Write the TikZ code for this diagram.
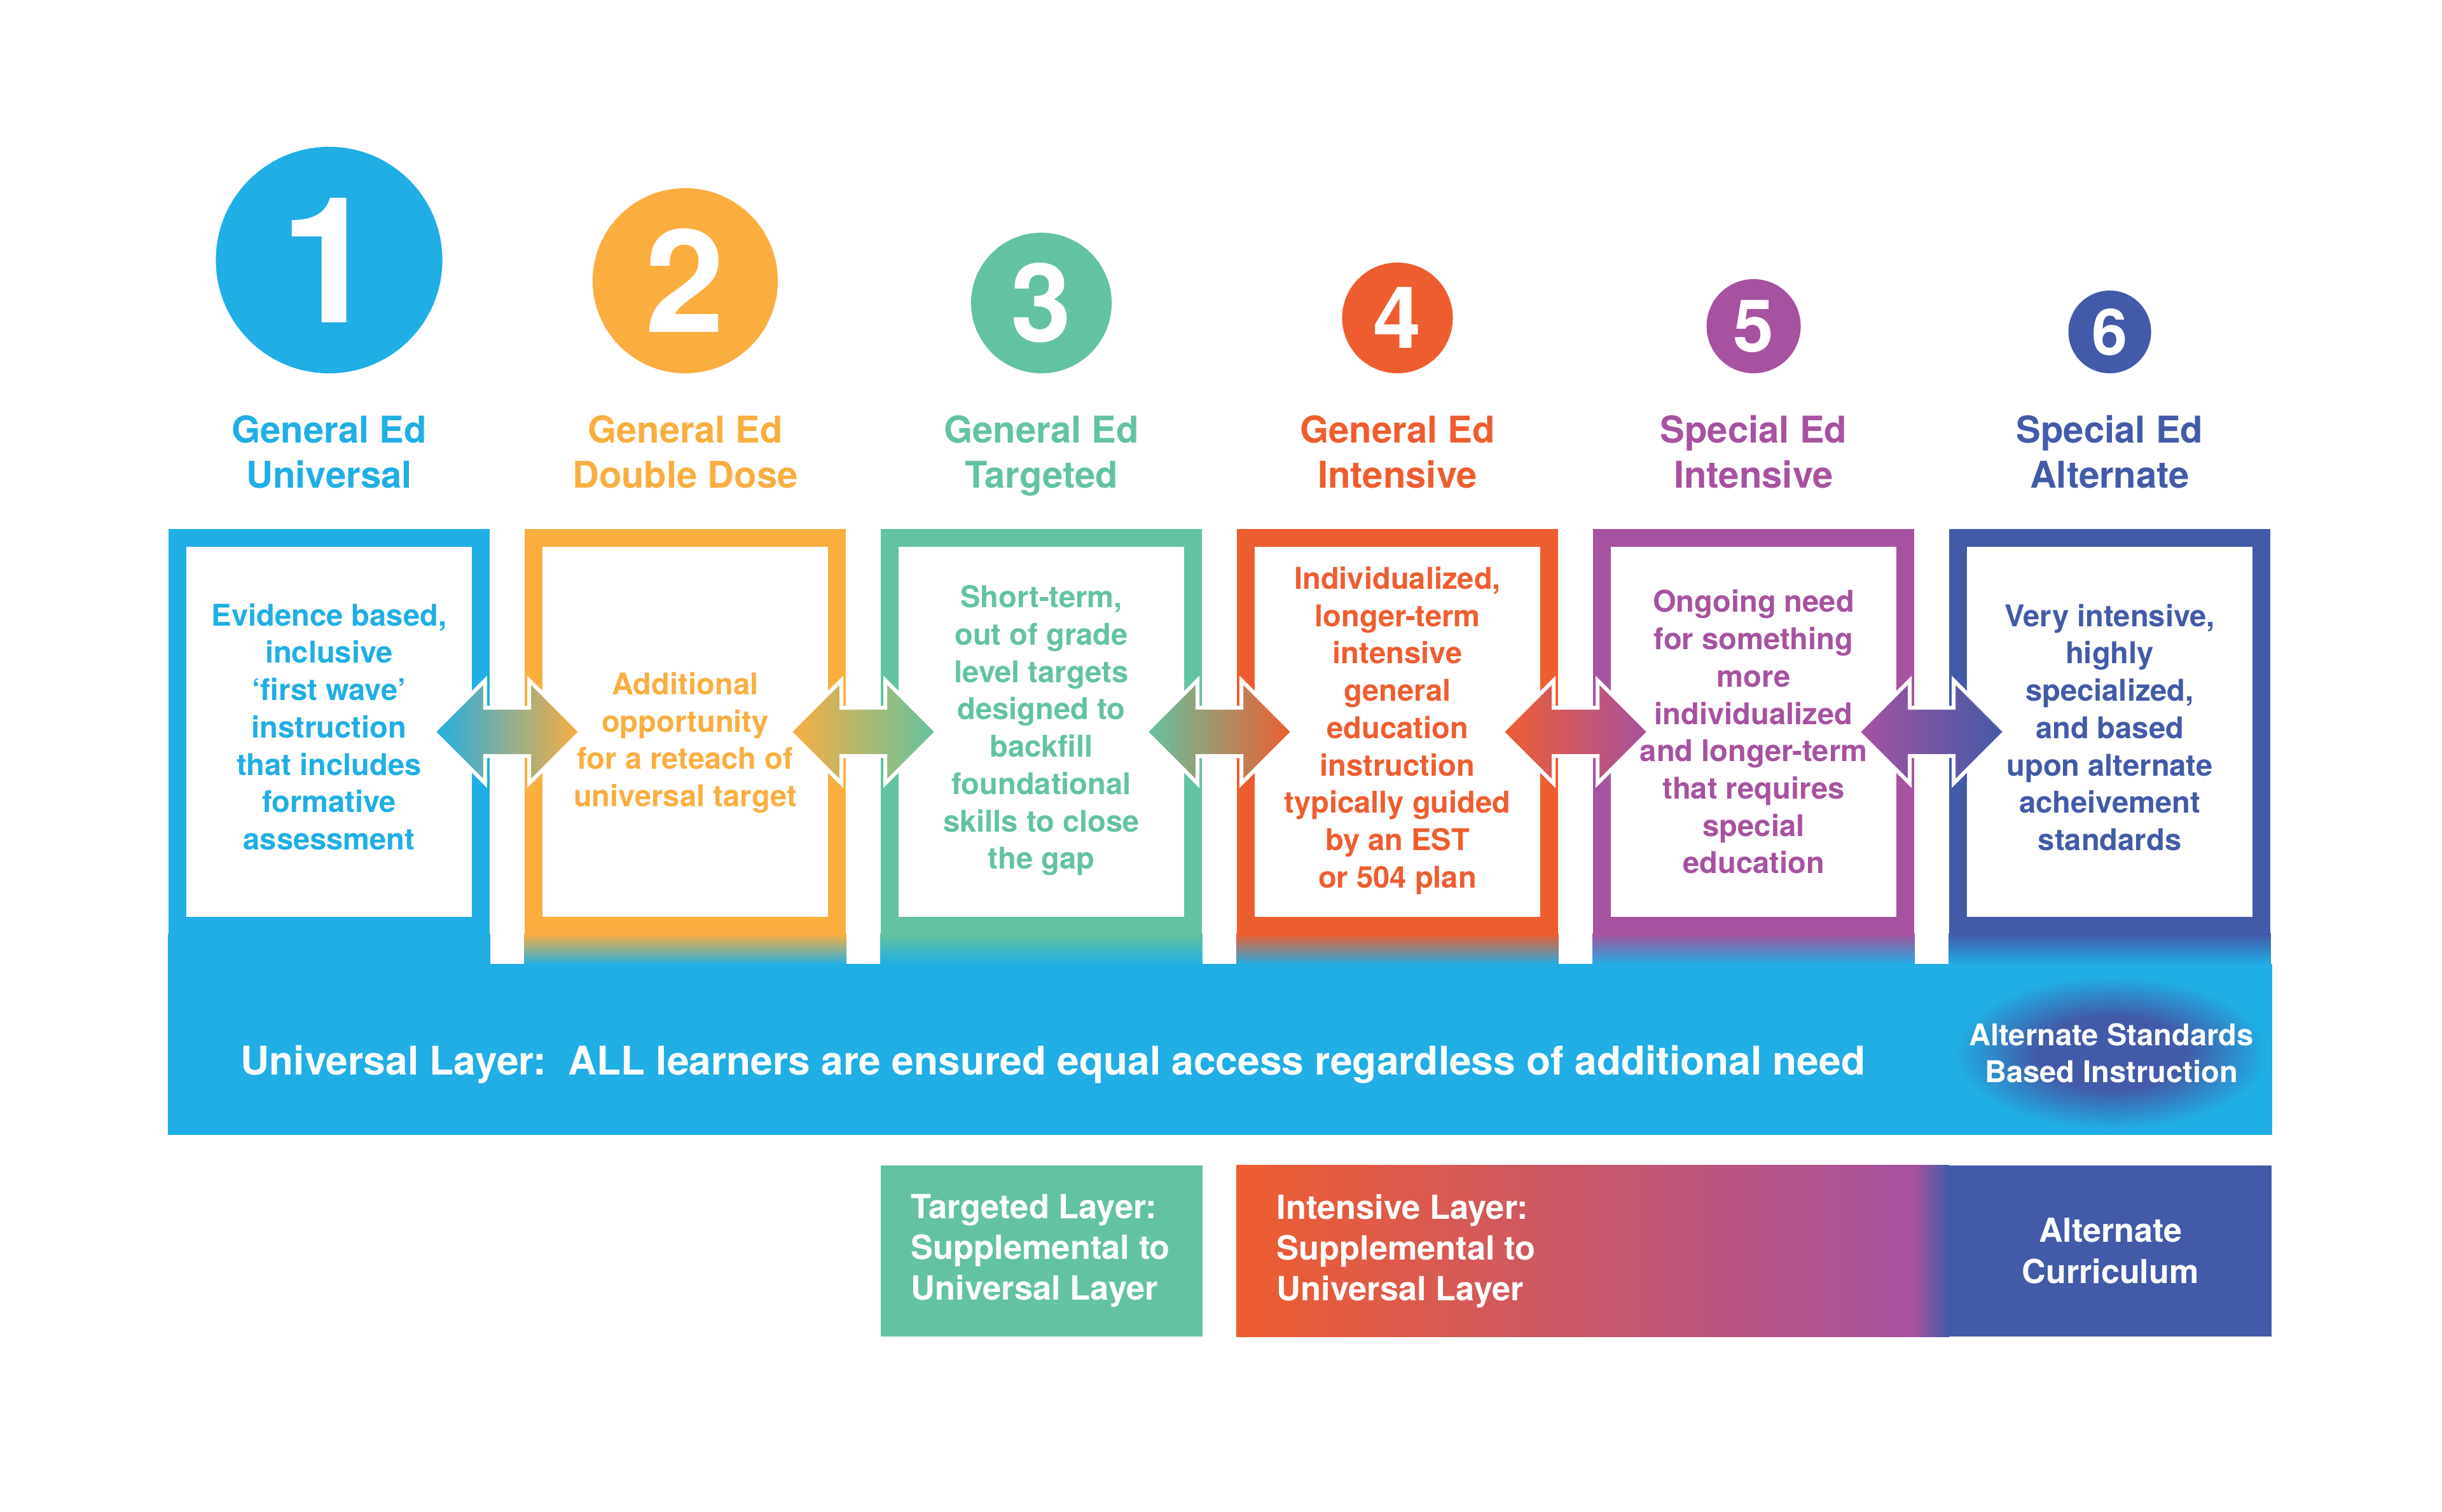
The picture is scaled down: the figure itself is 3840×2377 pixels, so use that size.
\documentclass[tikz,border=0pt]{standalone}
\usepackage{fontspec}
\setmainfont{TeX Gyre Heros}
\usetikzlibrary{arrows.meta,calc,positioning,shapes.arrows,shapes.geometric}
\definecolor{gblue}{RGB}{32,174,228}
\definecolor{gorange}{RGB}{250,174,64}
\definecolor{ggreen}{RGB}{99,195,160}
\definecolor{gred}{RGB}{238,93,48}
\definecolor{gpurple}{RGB}{166,82,160}
\definecolor{gnavy}{RGB}{66,90,168}
\pgfdeclareradialshading{altglow}{\pgfpoint{0bp}{0bp}}{color(0bp)=(gnavy); color(12bp)=(gnavy); color(25bp)=(gblue); color(50bp)=(gblue)}
\tikzset{
  num/.style={circle, inner sep=0pt, text=white},
  title/.style={align=center, font=\fontsize{16.5}{20}\selectfont\bfseries, execute at end node=\strut},
  frame/.style={rectangle, inner sep=0pt, minimum width=5.05cm, minimum height=6.38cm},
  inbox/.style={rectangle, fill=white, inner sep=0pt, minimum width=4.48cm, minimum height=5.81cm},
  note/.style={align=center, font=\fontsize{13.4}{16.7}\selectfont\bfseries},
  flow/.style={double arrow, draw=white, line width=0.06cm, inner xsep=0pt, inner ysep=0.35cm, minimum height=2.31cm, minimum width=1.56cm, double arrow head extend=0.43cm, double arrow tip angle=90},
  layer/.style={rectangle, inner sep=0pt, minimum height=2.69cm},
  laytext/.style={anchor=west, align=left, text=white, font=\fontsize{14.9}{18.2}\selectfont\bfseries}
}

\begin{document}
\begin{tikzpicture}[x=0.01cm, y=-0.01cm]
  \useasboundingbox (0,0) rectangle (3840,2377);

  \node[num, fill=gblue, minimum size=3.56cm, font=\fontsize{78.6}{80}\selectfont\bfseries] (num1) at (517.5,409) {1};
  \node[num, fill=gorange, minimum size=2.91cm, font=\fontsize{64}{66}\selectfont\bfseries] (num2) at (1077.5,441.5) {2};
  \node[num, fill=ggreen, minimum size=2.21cm, font=\fontsize{48.7}{50}\selectfont\bfseries] (num3) at (1637.5,476.5) {3};
  \node[num, fill=gred, minimum size=1.74cm, font=\fontsize{38.4}{40}\selectfont\bfseries] (num4) at (2197.5,500) {4};
  \node[num, fill=gpurple, minimum size=1.48cm, font=\fontsize{32.6}{34}\selectfont\bfseries] (num5) at (2757.5,513) {5};
  \node[num, fill=gnavy, minimum size=1.30cm, font=\fontsize{28.7}{30}\selectfont\bfseries] (num6) at (3317.5,522) {6};

  \node[title, text=gblue] (title1) at (517.5,721) {General Ed\\Universal};
  \node[title, text=gorange] (title2) at (1077.5,721) {General Ed\\Double Dose};
  \node[title, text=ggreen] (title3) at (1637.5,721) {General Ed\\Targeted};
  \node[title, text=gred] (title4) at (2197.5,721) {General Ed\\Intensive};
  \node[title, text=gpurple] (title5) at (2757.5,721) {Special Ed\\Intensive};
  \node[title, text=gnavy] (title6) at (3317.5,721) {Special Ed\\Alternate};

  \node[frame, fill=gblue] (frame1) at (517.5,1151) {};
  \node[frame, fill=gorange] (frame2) at (1077.5,1151) {};
  \node[frame, fill=ggreen] (frame3) at (1637.5,1151) {};
  \node[frame, fill=gred] (frame4) at (2197.5,1151) {};
  \node[frame, fill=gpurple] (frame5) at (2757.5,1151) {};
  \node[frame, fill=gnavy] (frame6) at (3317.5,1151) {};
  \fill[gblue] ($(frame1.south west)+(0,-2)$) rectangle ($(frame1.south east)+(0,47)$);
  \shade[top color=gorange, bottom color=gblue] ($(frame2.south west)+(0,-2)$) rectangle ($(frame2.south east)+(0,47)$);
  \shade[top color=ggreen, bottom color=gblue] ($(frame3.south west)+(0,-2)$) rectangle ($(frame3.south east)+(0,47)$);
  \shade[top color=gred, bottom color=gblue] ($(frame4.south west)+(0,-2)$) rectangle ($(frame4.south east)+(0,47)$);
  \shade[top color=gpurple, bottom color=gblue] ($(frame5.south west)+(0,-2)$) rectangle ($(frame5.south east)+(0,47)$);
  \shade[top color=gnavy, bottom color=gblue] ($(frame6.south west)+(0,-2)$) rectangle ($(frame6.south east)+(0,47)$);

  \node[inbox] (box1) at (frame1) {};
  \node[inbox] (box2) at (frame2) {};
  \node[inbox] (box3) at (frame3) {};
  \node[inbox] (box4) at (frame4) {};
  \node[inbox] (box5) at (frame5) {};
  \node[inbox] (box6) at (frame6) {};
  \node[note, text=gblue] (note1) at ($(box1)+(0,-8)$) {Evidence based,\\inclusive\\‘first wave’\\instruction\\that includes\\formative\\assessment};
  \node[note, text=gorange] (note2) at ($(box2)+(0,17)$) {Additional\\opportunity\\for a reteach of\\universal target};
  \node[note, text=ggreen] (note3) at ($(box3)+(0,-2)$) {Short-term,\\out of grade\\level targets\\designed to\\backfill\\foundational\\skills to close\\the gap};
  \node[note, text=gred] (note4) at ($(box4)+(0,-2)$) {Individualized,\\longer-term\\intensive\\general\\education\\instruction\\typically guided\\by an EST\\or 504 plan};
  \node[note, text=gpurple] (note5) at (box5) {Ongoing need\\for something\\more\\individualized\\and longer-term\\that requires\\special\\education};
  \node[note, text=gnavy] (note6) at ($(box6)+(0,-7)$) {Very intensive,\\highly\\specialized,\\and based\\upon alternate\\acheivement\\standards};

  \node[flow, left color=gblue, right color=gorange] (flow12) at ($(frame1.east)!0.5!(frame2.west)$) {};
  \node[flow, left color=gorange, right color=ggreen] (flow23) at ($(frame2.east)!0.5!(frame3.west)$) {};
  \node[flow, left color=ggreen, right color=gred] (flow34) at ($(frame3.east)!0.5!(frame4.west)$) {};
  \node[flow, left color=gred, right color=gpurple] (flow45) at ($(frame4.east)!0.5!(frame5.west)$) {};
  \node[flow, left color=gpurple, right color=gnavy] (flow56) at ($(frame5.east)!0.5!(frame6.west)$) {};

  \node[layer, fill=gblue, minimum width=33.07cm] (ulayer) at (1918.5,1650.5) {};
  \node[anchor=base west, text=white, font=\fontsize{17.7}{20}\selectfont\bfseries] (utext) at (366,1690) {Universal Layer:\ \ ALL learners are ensured equal access regardless of additional need};
  \node[ellipse, shade, shading=altglow, inner sep=0pt, minimum width=4.9cm, minimum height=2.4cm] (altstd) at (3320,1656) {};
  \node[align=center, text=white, font=\fontsize{13.4}{16.5}\selectfont\bfseries] (alttext) at (altstd) {Alternate Standards\\Based Instruction};

  \node[layer, fill=ggreen, minimum width=5.06cm] (tlayer) at (1638,1967.5) {};
  \node[laytext] (ttext) at ([xshift=0.36cm]tlayer.west) {Targeted Layer:\\Supplemental to\\Universal Layer};
  \node[layer, left color=gred, right color=gpurple, minimum width=10.65cm] (ilayer) at (2477.5,1967.5) {};
  \node[laytext] (itext) at ([xshift=0.51cm]ilayer.west) {Intensive Layer:\\Supplemental to\\Universal Layer};
  \node[layer, left color=gpurple, right color=gnavy, minimum width=0.55cm] (ablend) at (3037.5,1967.5) {};
  \node[layer, fill=gnavy, minimum width=5.07cm, align=center, text=white, font=\fontsize{14.8}{18.5}\selectfont\bfseries] (acurr) at (3318.5,1967.5) {Alternate\\Curriculum};
\end{tikzpicture}
\end{document}
